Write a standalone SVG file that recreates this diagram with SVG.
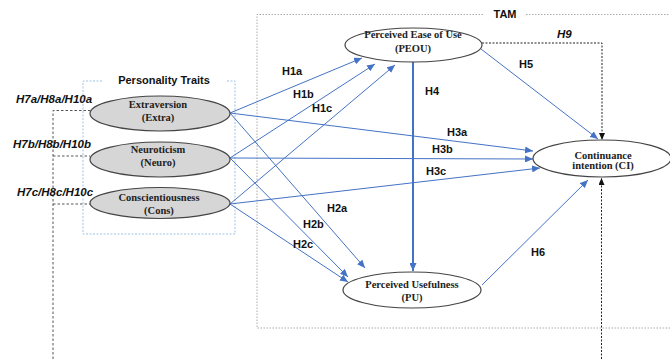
<svg xmlns="http://www.w3.org/2000/svg" width="670" height="359" viewBox="0 0 670 359">
<style>
.lbl{font-family:"Liberation Sans",Arial,sans-serif;font-weight:bold;font-size:11px;fill:#111}
.ital{font-family:"Liberation Sans",Arial,sans-serif;font-style:italic;font-weight:bold;font-size:11.5px;fill:#111}
.nt{font-family:"Liberation Serif","Times New Roman",serif;font-weight:bold;font-size:10.5px;fill:#222;text-anchor:middle}
.gray{fill:#d6d6d6;stroke:#444;stroke-width:1.2}
.white{fill:#fff;stroke:#444;stroke-width:1.2}
.blue{stroke:#4472C4;stroke-width:1;fill:none;marker-end:url(#ab)}
.blue2{stroke:#4472C4;stroke-width:2;fill:none;marker-end:url(#ab)}
.bdot{stroke:#222;stroke-width:1;fill:none;stroke-dasharray:2 1.5}
.bdash{stroke:#555;stroke-width:1;fill:none;stroke-dasharray:2.5 2}
</style>
<defs>
<marker id="ab" markerUnits="userSpaceOnUse" markerWidth="8" markerHeight="7" refX="8" refY="3.5" orient="auto"><path d="M0,0 L8,3.5 L0,7 z" fill="#4472C4"/></marker>
<marker id="ak" markerUnits="userSpaceOnUse" markerWidth="7" markerHeight="6" refX="7" refY="3" orient="auto"><path d="M0,0 L7,3 L0,6 z" fill="#111"/></marker>
</defs>
<rect width="670" height="359" fill="#fff"/>

<g id="tam-box">
<path d="M483,14.5 H257 V328 H680 M526,14.5 H680" fill="none" stroke="#aaa" stroke-width="1" stroke-dasharray="1.5 1.5"/>
<text x="505" y="18" class="lbl" text-anchor="middle">TAM</text>
</g>

<g id="personality-box">
<path d="M102,81 H83 V234 H235 V81 H226" fill="none" stroke="#9dc3e6" stroke-width="1" stroke-dasharray="2 1.5"/>
<text x="164" y="84" class="lbl" text-anchor="middle" font-size="10.5">Personality Traits</text>
</g>

<g id="connectors">
<path d="M53,359 V110.5 H90 M53,156 H90 M53,204 H90" class="bdash"/>
<path d="M482,43 H602 V140" class="bdot" marker-end="url(#ak)"/>
<path d="M601.5,359 V178" class="bdot" marker-end="url(#ak)"/>
<line x1="230" y1="113" x2="362" y2="58" class="blue"/>
<line x1="230" y1="158" x2="375" y2="64" class="blue"/>
<line x1="230" y1="204" x2="395" y2="65" class="blue"/>
<line x1="230" y1="113" x2="365" y2="268" class="blue"/>
<line x1="230" y1="158" x2="348" y2="277" class="blue"/>
<line x1="230" y1="204" x2="348" y2="282" class="blue"/>
<line x1="230" y1="113" x2="533" y2="151" class="blue"/>
<line x1="230" y1="158" x2="533" y2="159" class="blue"/>
<line x1="230" y1="204" x2="540" y2="168" class="blue"/>
<line x1="413" y1="62" x2="413" y2="271" class="blue2"/>
<line x1="481" y1="49" x2="598" y2="139" class="blue"/>
<line x1="482" y1="285" x2="588" y2="180" class="blue"/>
</g>

<g id="labels">
<text x="282" y="75" class="lbl">H1a</text>
<text x="293" y="98" class="lbl">H1b</text>
<text x="312" y="112" class="lbl">H1c</text>
<text x="327" y="212" class="lbl">H2a</text>
<text x="303" y="228" class="lbl">H2b</text>
<text x="293" y="248" class="lbl">H2c</text>
<text x="447" y="136" class="lbl">H3a</text>
<text x="432" y="153" class="lbl">H3b</text>
<text x="426" y="175" class="lbl">H3c</text>
<text x="425" y="95" class="lbl">H4</text>
<text x="519" y="68" class="lbl">H5</text>
<text x="531" y="256" class="lbl">H6</text>
<text x="557" y="38" class="ital">H9</text>
<text x="16" y="103" class="ital">H7a/H8a/H10a</text>
<text x="13" y="148" class="ital">H7b/H8b/H10b</text>
<text x="17" y="196" class="ital">H7c/H8c/H10c</text>
</g>

<g id="extraversion">
<ellipse cx="160" cy="113.5" rx="70" ry="17.5" class="gray"/>
<text x="158" y="108" class="nt">Extraversion</text>
<text x="158" y="121" class="nt">(Extra)</text>
</g>
<g id="neuroticism">
<ellipse cx="160" cy="159.5" rx="70" ry="17.5" class="gray"/>
<text x="158" y="153" class="nt">Neuroticism</text>
<text x="158" y="166" class="nt">(Neuro)</text>
</g>
<g id="conscientiousness">
<ellipse cx="160" cy="203" rx="70" ry="15.5" class="gray"/>
<text x="159" y="201" class="nt">Conscientiousness</text>
<text x="159" y="214" class="nt">(Cons)</text>
</g>
<g id="peou">
<ellipse cx="413.5" cy="45" rx="68.5" ry="17" class="white"/>
<text x="413" y="38" class="nt">Perceived Ease of Use</text>
<text x="413" y="52" class="nt">(PEOU)</text>
</g>
<g id="pu">
<ellipse cx="412" cy="290" rx="69" ry="18" class="white"/>
<text x="412" y="288" class="nt">Perceived Usefulness</text>
<text x="412" y="301" class="nt">(PU)</text>
</g>
<g id="ci">
<ellipse cx="602" cy="158.5" rx="69" ry="18.5" class="white"/>
<text x="603" y="159" class="nt">Continuance</text>
<text x="603" y="169" class="nt">intention (CI)</text>
</g>
</svg>
